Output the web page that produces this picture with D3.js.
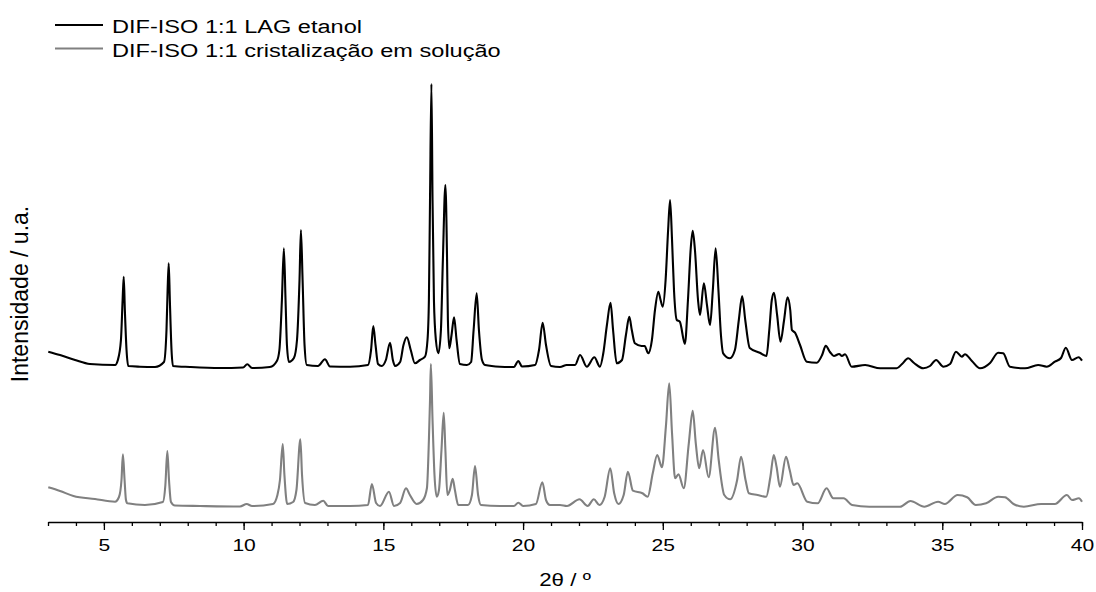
<!DOCTYPE html>
<html><head><meta charset="utf-8">
<script src="https://cdn.jsdelivr.net/npm/d3@7"></script>
<style>
body{margin:0;background:#fff}
svg text{font-family:"Liberation Sans",Arial,sans-serif;fill:#000}
</style>
</head><body>
<svg id="chart" width="1096" height="592"></svg>
<script>
// ---- data (intensity in arbitrary units) ----
const seriesNames = ["DIF-ISO 1:1 LAG etanol", "DIF-ISO 1:1 cristalização em solução"];
const seriesColors = ["#000000", "#808080"];

const lagTheta = [3.01,3.43,3.97,4.50,5.40,5.50,5.61,5.67,5.71,5.75,5.81,5.87,6.29,6.83,7.15,7.24,7.28,7.32,7.36,7.42,7.47,8.08,9.15,9.98,10.13,10.30,10.94,11.19,11.28,11.37,11.44,11.50,11.55,11.62,11.80,11.91,12.00,12.05,12.11,12.18,12.26,12.66,12.91,13.09,13.81,14.45,14.56,14.64,14.72,14.81,14.94,15.09,15.24,15.34,15.42,15.60,15.72,15.84,15.98,16.13,16.31,16.49,16.58,16.63,16.67,16.72,16.76,16.81,16.88,16.97,17.06,17.13,17.22,17.28,17.31,17.36,17.44,17.53,17.62,17.74,17.99,18.14,18.23,18.34,18.42,18.53,18.64,19.17,19.67,19.83,19.96,20.43,20.57,20.70,20.82,21.00,21.32,21.56,21.86,22.04,22.28,22.55,22.75,22.87,23.00,23.13,23.22,23.35,23.54,23.68,23.80,23.89,24.00,24.24,24.35,24.48,24.61,24.72,24.84,24.92,25.00,25.10,25.19,25.26,25.33,25.40,25.50,25.61,25.79,25.90,26.00,26.07,26.15,26.26,26.33,26.47,26.58,26.69,26.79,26.89,26.99,27.08,27.16,27.40,27.58,27.72,27.84,27.95,28.11,28.47,28.71,28.81,28.90,28.98,29.09,29.21,29.34,29.46,29.56,29.62,29.73,29.91,30.15,30.51,30.70,30.83,30.98,31.12,31.31,31.41,31.52,31.76,32.24,32.78,33.37,33.56,33.78,33.99,34.32,34.56,34.78,35.04,35.28,35.49,35.70,35.81,36.06,36.35,36.71,37.00,37.18,37.42,37.96,38.43,38.74,39.03,39.25,39.42,39.64,39.88,40.00];
const lagIntensity = [170.3,167,162,158,157,162,182,222,245.3,212,172,156,155.3,155,160,192,232,258.7,222,172,156,155,154,154.5,157.7,154,155,161,172,222,273.7,222,177,160,164,182,242,292,242,177,157,156,162.7,155.5,155.3,157,172,196,177,158,156,162,179.3,162,156,160,177,184.7,172,158.7,162,165.3,182,222,322,438,322,222,182,168.7,192,262,337,262,202,173.7,187,204.7,182,158,157,160,192,228.7,192,162,157,155.3,155,161,155.5,157,172,199.3,177,156,155,157,157,167,155.3,164.7,155.3,168.7,197,219.3,192,158.7,162,187,205.3,192,178.7,176,176,168.7,182,212,230.3,222,215.3,242,292,322,282,232,202,200.3,178,222,274,291.3,272,222,207,238.7,217,197,232,273.7,232,187,168.7,163.7,172,202,226,202,174,169.3,166,192,222,229.3,207,180.3,202,224.7,212,192,189.3,177,160.3,159.3,167,176.3,170,166,168,166,167.7,155.3,157,153.7,153.7,158,163.7,159,153.7,156,162,155.3,158,170.3,165.3,167.7,161,153.7,159,169.3,168.7,155.3,153.7,157,155.3,160.3,164,174.3,162,164.7,161.3];

const solTheta = [3.01,3.43,3.91,4.68,5.40,5.54,5.63,5.68,5.74,5.79,5.84,6.47,7.11,7.20,7.27,7.33,7.40,7.54,8.44,9.87,10.11,10.30,11.05,11.21,11.30,11.40,11.46,11.56,11.77,11.89,12.03,12.09,12.20,12.55,12.85,13.02,13.81,14.45,14.59,14.74,14.88,15.20,15.38,15.60,15.81,15.95,16.19,16.42,16.56,16.63,16.67,16.70,16.76,16.83,16.91,16.99,17.08,17.16,17.22,17.29,17.38,17.48,17.56,17.68,18.03,18.17,18.28,18.39,18.49,19.17,19.67,19.83,20.00,20.46,20.69,20.82,20.96,21.32,21.57,22.02,22.31,22.53,22.73,22.92,23.12,23.26,23.41,23.60,23.75,23.93,24.27,24.46,24.64,24.80,24.97,25.11,25.23,25.33,25.44,25.56,25.75,25.93,26.07,26.18,26.30,26.44,26.64,26.87,27.00,27.20,27.41,27.66,27.80,27.96,28.08,28.39,28.70,28.85,28.97,29.07,29.19,29.41,29.54,29.68,29.81,30.17,30.54,30.86,31.10,31.47,31.77,32.39,33.49,33.86,34.36,34.85,35.09,35.55,35.89,36.20,36.57,37.00,37.25,37.55,37.92,38.54,39.03,39.46,39.64,39.89,40.00];
const solIntensity = [34.7,31,26,23,20.3,25,42,67.7,42,22,18.7,17,20,37,71,42,20,16.5,16,15.5,18,16,18,27,42,78,47,18,20,32,82.7,47,19,17,21.3,16,16,17,38,19,16,30.3,16,19,33.7,27,18,22,34,82,122,158,102,47,25.3,32,72,109.3,72,27,32,43.3,32,17,17,27,56,27,17,16,16,19.3,16,18,39.7,22,17,17,16,22.7,16,22.7,17,25.3,53.7,28.7,18,27,50.3,31.3,28.7,25.3,48.7,67,54.7,95.3,138.7,88.7,43.7,47.7,33.7,78.7,111.3,78.7,53.7,72,44.7,94.3,62,27,22.7,42,65.3,42,28.7,27,25.3,45.3,67,55.3,35.3,65.3,52,37,38.7,20.3,18.7,33.7,23.7,23.7,17,15.3,15.3,21,15.3,20.3,18,27,24.7,17,18.7,25.3,24.7,18,15.3,18,18,27,22,23.7,20.3];

const majorTicks = [5, 10, 15, 20, 25, 30, 35, 40];
const minorTicks = [3,4,5,6,7,8,9,10,11,12,13,14,15,16,17,18,19,20,21,22,23,24,25,26,27,28,29,30,31,32,33,34,35,36,37,38,39,40];
const xDomain = [3, 40];
const yDomain = [0, 440];
const xTitle = "2θ / º";
const yTitle = "Intensidade / u.a.";

// ---- drawing ----
const svg = d3.select("#chart");
const x = d3.scaleLinear().domain(xDomain).range([48, 1082]);
const y = d3.scaleLinear().domain(yDomain).range([522, 82]);
const SX = 1.24; // horizontal stretch of the reference typography

const line = d3.line().x(d => x(d[0])).y(d => y(d[1])).curve(d3.curveMonotoneX);
const series = [
  {name: seriesNames[1], color: seriesColors[1], pts: d3.zip(solTheta, solIntensity)},
  {name: seriesNames[0], color: seriesColors[0], pts: d3.zip(lagTheta, lagIntensity)}
];
svg.append("g").selectAll("path").data(series).join("path")
  .attr("d", d => line(d.pts))
  .attr("fill", "none")
  .attr("stroke", d => d.color)
  .attr("stroke-width", 2.1)
  .attr("stroke-linejoin", "round");

// x axis: minor then major
const axY = y(0);
svg.append("g").attr("transform", `translate(0,${axY})`)
  .call(d3.axisBottom(x).tickValues(minorTicks).tickSize(4).tickSizeOuter(0).tickFormat(""))
  .call(g => g.selectAll("line").attr("stroke", "#000").attr("stroke-width", 1.3))
  .call(g => g.select(".domain").attr("stroke", "#000").attr("stroke-width", 1.5));
const gMaj = svg.append("g").attr("transform", `translate(0,${axY})`)
  .call(d3.axisBottom(x).tickValues(majorTicks).tickSize(8).tickSizeOuter(0).tickFormat(d3.format("d")));
gMaj.select(".domain").remove();
gMaj.selectAll("line").attr("stroke", "#000").attr("stroke-width", 1.3);
gMaj.selectAll("text")
  .attr("y", 29).attr("dy", null)
  .attr("font-size", 17).attr("fill", "#000")
  .attr("font-family", '"Liberation Sans",Arial,sans-serif')
  .attr("transform", `scale(${SX},1)`);

// axis titles
svg.append("text").attr("transform", `translate(565,586) scale(${SX},1)`)
  .attr("text-anchor", "middle").attr("font-size", 18).text(xTitle);
svg.append("text").attr("transform", `translate(28,294) rotate(-90)`)
  .attr("text-anchor", "middle").attr("font-size", 23).text(yTitle);

// legend
const leg = svg.append("g").selectAll("g").data([0, 1]).join("g")
  .attr("transform", i => `translate(0,${25 + i * 23.5})`);
leg.append("line").attr("x1", 55).attr("x2", 103).attr("y1", 0).attr("y2", 0)
  .attr("stroke", i => seriesColors[i]).attr("stroke-width", 1.9);
leg.append("text").attr("transform", `translate(112,8) scale(${SX},1)`)
  .attr("font-size", 19).text(i => seriesNames[i]);
</script>
</body></html>
